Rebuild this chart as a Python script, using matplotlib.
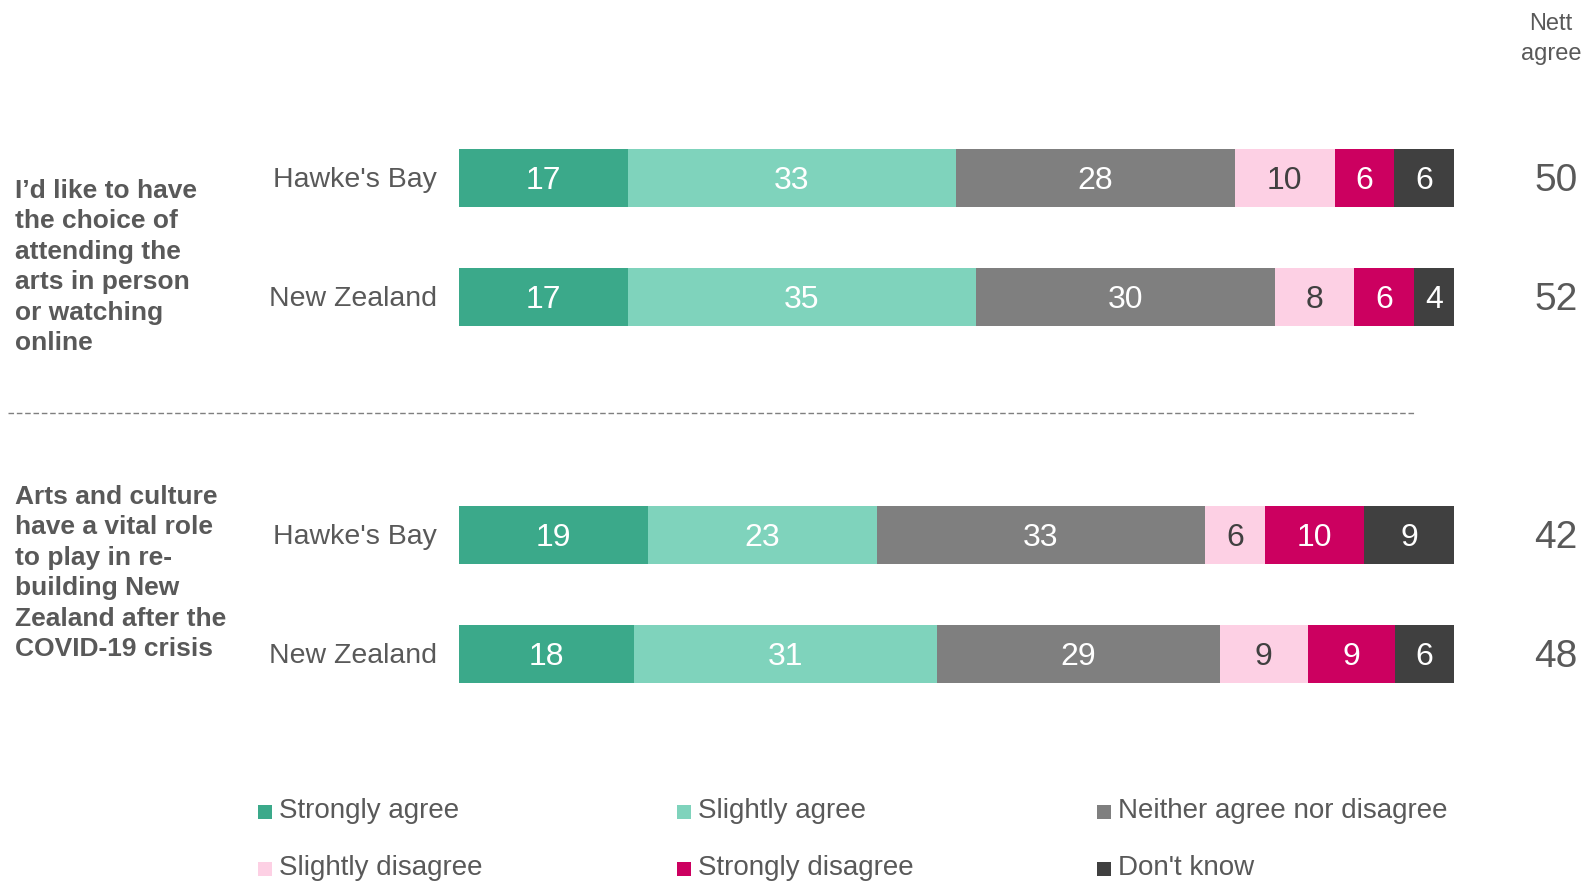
import matplotlib
matplotlib.use("Agg")
import matplotlib.pyplot as plt
from matplotlib import font_manager
from matplotlib.lines import Line2D
from matplotlib.patches import Rectangle
import numpy as np

# Survey results (%), one row per region within each statement
statements = [
    "I\u2019d like to have\nthe choice of\nattending the\narts in person\nor watching\nonline",
    "Arts and culture\nhave a vital role\nto play in re-\nbuilding New\nZealand after the\nCOVID-19 crisis",
]
regions = ["Hawke's Bay", "New Zealand", "Hawke's Bay", "New Zealand"]
responses = ["Strongly agree", "Slightly agree", "Neither agree nor disagree",
             "Slightly disagree", "Strongly disagree", "Don't know"]
values = np.array([
    [17, 33, 28, 10, 6, 6],
    [17, 35, 30, 8, 6, 4],
    [19, 23, 33, 6, 10, 9],
    [18, 31, 29, 9, 9, 6],
])
nett_agree = [50, 52, 42, 48]

colors = ["#3ba98a", "#7fd3bc", "#7f7f7f", "#fdd0e4", "#cc0060", "#404040"]
label_colors = ["white", "white", "white", "#404040", "white", "white"]
text_grey = "#595959"

available = {f.name for f in font_manager.fontManager.ttflist}
family = "Liberation Sans Narrow" if "Liberation Sans Narrow" in available else "Liberation Sans"
plt.rcParams["font.family"] = [family, "DejaVu Sans"]

W, H = 1587, 886
fig = plt.figure(figsize=(W / 100, H / 100), dpi=100)

# axes spans the bar area horizontally, y in pixel rows from the top
ax = fig.add_axes([458.5 / W, 0, 995.5 / W, 1])
ax.set_xlim(0, 100)
ax.set_ylim(H, 0)
ax.axis("off")

row_y = [178, 297, 535, 654]
bar_h = 58

# each row is a 100% stacked bar
shares = values / values.sum(axis=1, keepdims=True) * 100
left = np.zeros(len(row_y))
for j, resp in enumerate(responses):
    ax.barh(row_y, shares[:, j], left=left, height=bar_h, color=colors[j],
            label=resp, linewidth=0)
    for i, y in enumerate(row_y):
        ax.text(left[i] + shares[i, j] / 2, y + 3, str(values[i, j]),
                ha="center", va="center", fontsize=23, color=label_colors[j])
    left += shares[:, j]

for i, y in enumerate(row_y):
    ax.text(-2.2, y + 2, regions[i], ha="right", va="center", fontsize=20.5, color=text_grey)
    fig.text(1556 / W, 1 - (y + 3) / H, str(nett_agree[i]), ha="center", va="center",
             fontsize=28, color=text_grey)

fig.text(1551 / W, 1 - 39 / H, "Nett\nagree", ha="center", va="center",
         fontsize=17, color=text_grey, linespacing=1.45)

# statement labels on the left
for txt, yc in zip(statements, [267, 573]):
    fig.text(15 / W, 1 - yc / H, txt, ha="left", va="center", fontsize=19,
             fontweight="bold", color=text_grey, linespacing=1.34)

# dashed separator between the two statements
fig.add_artist(Line2D([8 / W, 1414 / W], [1 - 413 / H, 1 - 413 / H],
                      color="#7f7f7f", lw=1, linestyle=(0, (4, 2))))

# legend laid out in two rows of three
for k, resp in enumerate(responses):
    col, row = k % 3, k // 3
    x0 = [258, 677, 1097][col]
    yc = [812, 869][row]
    fig.add_artist(Rectangle((x0 / W, 1 - (yc + 7) / H), 14 / W, 14 / H,
                             transform=fig.transFigure, color=colors[k], lw=0))
    fig.text((x0 + 21) / W, 1 - (yc - 1) / H, resp, ha="left", va="center",
             fontsize=20, color=text_grey)

fig.savefig("out.png", dpi=100)
